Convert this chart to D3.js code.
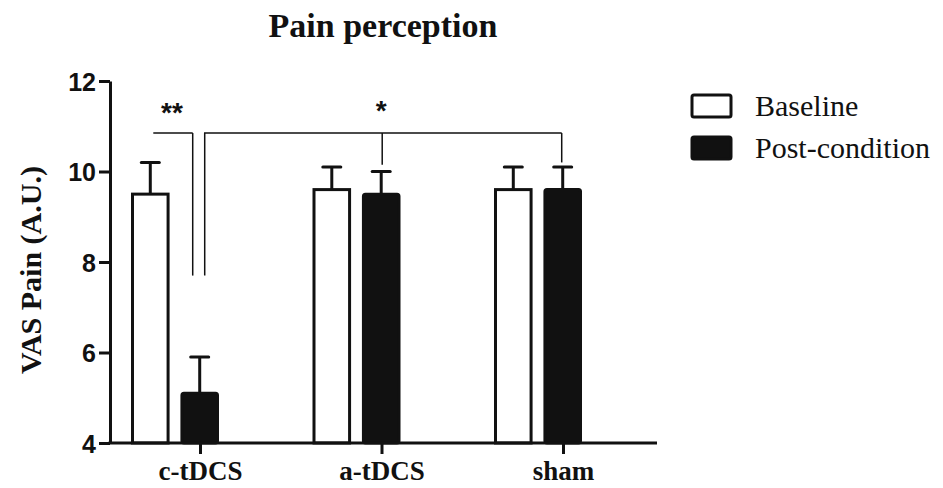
<!DOCTYPE html>
<html>
<head>
<meta charset="utf-8">
<script src="https://cdn.jsdelivr.net/npm/d3@7"></script>
<style>
  body { margin: 0; background: #fff; }
  svg { display: block; }
  .serif { font-family: "Liberation Serif", "Times New Roman", serif; fill: #111; }
  .sans { font-family: "Liberation Sans", Arial, sans-serif; fill: #111; }
</style>
</head>
<body>
<svg id="chart" width="943" height="488"></svg>
<script>
// data
var categories = ['c-tDCS', 'a-tDCS', 'sham'];
var seriesNames = ['Baseline', 'Post-condition'];
var baselineMean = [9.5, 9.6, 9.6];
var baselineErr = [0.7, 0.5, 0.5];
var postMean = [5.1, 9.5, 9.6];
var postErr = [0.8, 0.5, 0.5];
var yTicks = [4, 6, 8, 10, 12];

// significance brackets (y in data units, x as category + pixel offset)
var brackets = [
  { label: '**', top: 10.85, left: ['c-tDCS', 'Baseline', 3], drops: [['c-tDCS', 'Post-condition', -7, 7.7]] },
  { label: '*', top: 10.85, left: ['c-tDCS', 'Post-condition', 5, 7.7], drops: [['a-tDCS', 'Post-condition', 1, 10.15], ['sham', 'Post-condition', -1, 10.2]] }
];

var svg = d3.select('#chart');
var ink = '#111';

var y = d3.scaleLinear().domain([4, 12]).range([443, 81]);
var x = d3.scalePoint().domain(categories).range([200, 563]);
var xs = d3.scaleBand().domain(seriesNames).range([-67.5, 17.5]).paddingInner(0.28);

var rows = [];
categories.forEach(function(c, i) {
  rows.push({ cat: c, s: 'Baseline', v: baselineMean[i], e: baselineErr[i] });
  rows.push({ cat: c, s: 'Post-condition', v: postMean[i], e: postErr[i] });
});

function barCenter(cat, s) {
  return x(cat) + xs(s) + xs.bandwidth() / 2;
}

// error bars (drawn first so bar outline covers the stem base)
var eb = svg.append('g');
rows.forEach(function(d) {
  var cx = barCenter(d.cat, d.s);
  eb.append('line').attr('x1', cx).attr('x2', cx)
    .attr('y1', y(d.v)).attr('y2', y(d.v + d.e))
    .attr('stroke', ink).attr('stroke-width', 3);
  eb.append('line').attr('x1', cx - 9).attr('x2', cx + 9)
    .attr('y1', y(d.v + d.e)).attr('y2', y(d.v + d.e))
    .attr('stroke', ink).attr('stroke-width', 3).attr('stroke-linecap', 'round');
});

// bars
svg.append('g').selectAll('rect').data(rows).enter().append('rect')
  .attr('x', function(d) { return x(d.cat) + xs(d.s); })
  .attr('y', function(d) { return y(d.v); })
  .attr('width', xs.bandwidth())
  .attr('height', function(d) { return y(4) - y(d.v); })
  .attr('rx', function(d) { return d.s === 'Baseline' ? 0 : 2; })
  .attr('fill', function(d) { return d.s === 'Baseline' ? '#fff' : ink; })
  .attr('stroke', ink).attr('stroke-width', 3);

// y axis
var yAxis = svg.append('g').attr('transform', 'translate(110,0)')
  .call(d3.axisLeft(y).tickValues(yTicks).tickSize(11).tickSizeOuter(0).tickPadding(3));
yAxis.select('.domain').attr('stroke', ink).attr('stroke-width', 3);
yAxis.selectAll('.tick line').attr('stroke', ink).attr('stroke-width', 3);
yAxis.selectAll('.tick text').attr('class', 'sans')
  .style('font-size', '25px').style('font-weight', 'bold').attr('dy', '0.36em');

// x axis
var xAxis = svg.append('g').attr('transform', 'translate(0,' + y(4) + ')')
  .call(d3.axisBottom(x).tickSize(11).tickSizeOuter(0).tickPadding(8));
xAxis.select('.domain').attr('d', 'M108.5,0H657').attr('stroke', ink).attr('stroke-width', 3);
xAxis.selectAll('.tick line').attr('stroke', ink).attr('stroke-width', 3);
xAxis.selectAll('.tick text').attr('class', 'serif')
  .style('font-size', '27px').style('font-weight', 'bold').attr('dy', '0.68em');

// brackets
var bg = svg.append('g').attr('fill', 'none').attr('stroke', ink).attr('stroke-width', 1.5);
brackets.forEach(function(b) {
  var lx = barCenter(b.left[0], b.left[1]) + b.left[2];
  var ty = y(b.top);
  var last = b.drops[b.drops.length - 1];
  var rx = barCenter(last[0], last[1]) + last[2];
  var p = d3.path();
  if (b.left.length > 3) { p.moveTo(lx, y(b.left[3])); p.lineTo(lx, ty); }
  else p.moveTo(lx, ty);
  p.lineTo(rx, ty);
  bg.append('path').attr('d', p.toString());
  b.drops.forEach(function(dp) {
    var dx = barCenter(dp[0], dp[1]) + dp[2];
    bg.append('line').attr('x1', dx).attr('x2', dx).attr('y1', ty).attr('y2', y(dp[3]));
  });
});

// asterisks
svg.append('text').attr('class', 'sans').attr('x', 172).attr('y', 122)
  .attr('text-anchor', 'middle').style('font-size', '28px').style('font-weight', 'bold').text(brackets[0].label);
svg.append('text').attr('class', 'sans').attr('x', barCenter('a-tDCS', 'Post-condition')).attr('y', 120)
  .attr('text-anchor', 'middle').style('font-size', '28px').style('font-weight', 'bold').text(brackets[1].label);

// title
svg.append('text').attr('class', 'serif').attr('x', 383).attr('y', 37)
  .attr('text-anchor', 'middle').style('font-size', '34px').style('font-weight', 'bold')
  .text('Pain perception');

// y label
svg.append('text').attr('class', 'serif')
  .attr('transform', 'translate(41,270) rotate(-90)')
  .attr('text-anchor', 'middle').style('font-size', '30px').style('font-weight', 'bold')
  .text('VAS Pain (A.U.)');

// legend
var lg = svg.append('g').attr('transform', 'translate(692,95)');
seriesNames.forEach(function(s, i) {
  var row = lg.append('g').attr('transform', 'translate(0,' + i * 42 + ')');
  row.append('rect').attr('width', 39).attr('height', 22).attr('rx', 2)
    .attr('fill', i === 0 ? '#fff' : ink).attr('stroke', ink).attr('stroke-width', 3);
  row.append('text').attr('class', 'serif').attr('x', 63).attr('y', 21)
    .style('font-size', '30px').text(s);
});
</script>
</body>
</html>
